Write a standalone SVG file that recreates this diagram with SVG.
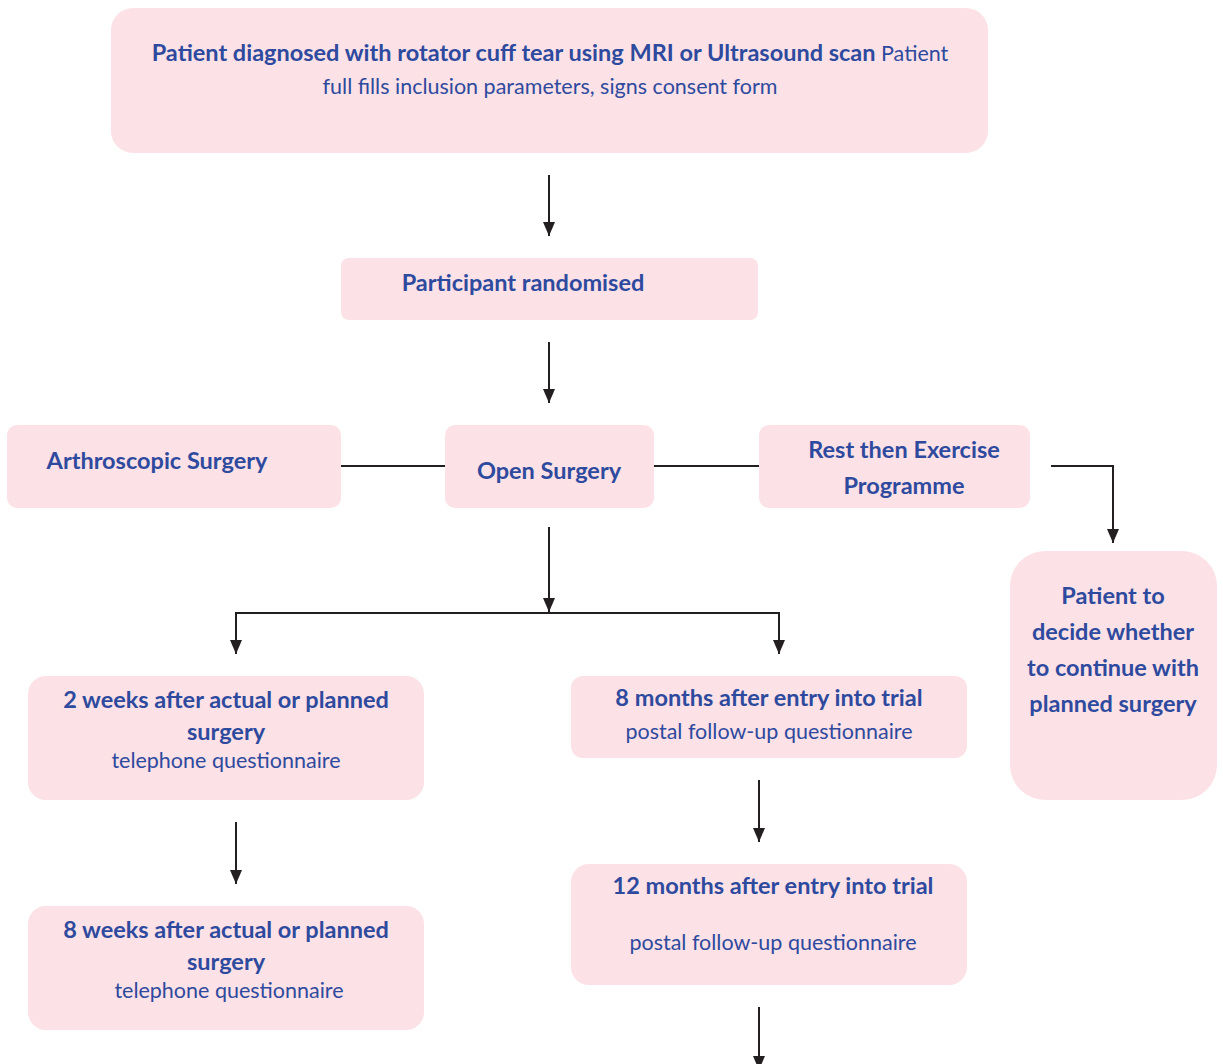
<svg xmlns="http://www.w3.org/2000/svg" width="1223" height="1064" viewBox="0 0 1223 1064">
<style>
.box{fill:#FCE1E6;}
.t{font-family:Lato,"Open Sans","Liberation Sans",sans-serif;fill:#2E4A9E;text-anchor:middle;}
.b{font-weight:bold;font-size:23.5px;}
.r{font-weight:normal;font-size:21.5px;}
.ln{stroke:#231F20;stroke-width:2;fill:none;}
</style>
<defs>
<marker id="ah" viewBox="0 0 14 12" refX="14" refY="6" markerWidth="14" markerHeight="12" markerUnits="userSpaceOnUse" orient="auto">
<path d="M0,0 L14,6 L0,12 Z" fill="#231F20"/>
</marker>
</defs>
<rect width="1223" height="1064" fill="#fff"/>
<g id="connectors">
<line class="ln" x1="549" y1="175" x2="549" y2="236" marker-end="url(#ah)"/>
<line class="ln" x1="549" y1="342" x2="549" y2="403" marker-end="url(#ah)"/>
<line class="ln" x1="341" y1="466" x2="445" y2="466"/>
<line class="ln" x1="654" y1="466" x2="759" y2="466"/>
<polyline class="ln" points="1051,466 1113,466 1113,543" marker-end="url(#ah)"/>
<line class="ln" x1="549" y1="527" x2="549" y2="612" marker-end="url(#ah)"/>
<polyline class="ln" points="236,654 236,613 779,613 779,654" marker-end="url(#ah)"/>
<line class="ln" x1="236" y1="613" x2="236" y2="654" marker-end="url(#ah)"/>
<line class="ln" x1="236" y1="822" x2="236" y2="884" marker-end="url(#ah)"/>
<line class="ln" x1="759" y1="780" x2="759" y2="842" marker-end="url(#ah)"/>
<line class="ln" x1="759" y1="1007" x2="759" y2="1070" marker-end="url(#ah)"/>
</g>
<g id="n-diagnosed">
<rect class="box" x="111" y="8" width="877" height="145" rx="22"/>
<text class="t" x="550" y="61"><tspan class="b">Patient diagnosed with rotator cuff tear using MRI or Ultrasound scan</tspan><tspan class="r"> Patient</tspan></text>
<text class="t r" x="550" y="94">full fills inclusion parameters, signs consent form</text>
</g>
<g id="n-randomised">
<rect class="box" x="341" y="258" width="417" height="62" rx="8"/>
<text class="t b" x="523" y="291">Participant randomised</text>
</g>
<g id="n-arthroscopic">
<rect class="box" x="7" y="425" width="334" height="83" rx="10"/>
<text class="t b" x="157" y="469">Arthroscopic Surgery</text>
</g>
<g id="n-open">
<rect class="box" x="445" y="425" width="209" height="83" rx="10"/>
<text class="t b" x="549" y="479">Open Surgery</text>
</g>
<g id="n-rest">
<rect class="box" x="759" y="425" width="271" height="83" rx="10"/>
<text class="t b" x="904" y="458">Rest then Exercise</text>
<text class="t b" x="904" y="494">Programme</text>
</g>
<g id="n-decide">
<rect class="box" x="1010" y="551" width="207" height="249" rx="35"/>
<text class="t b" x="1113" y="604">Patient to</text>
<text class="t b" x="1113" y="640">decide whether</text>
<text class="t b" x="1113" y="676">to continue with</text>
<text class="t b" x="1113" y="712">planned surgery</text>
</g>
<g id="n-2weeks">
<rect class="box" x="28" y="676" width="396" height="124" rx="18"/>
<text class="t b" x="226" y="708">2 weeks after actual or planned</text>
<text class="t b" x="226" y="740">surgery</text>
<text class="t r" x="226" y="768">telephone questionnaire</text>
</g>
<g id="n-8months">
<rect class="box" x="571" y="676" width="396" height="82" rx="12"/>
<text class="t b" x="769" y="706">8 months after entry into trial</text>
<text class="t r" x="769" y="739">postal follow-up questionnaire</text>
</g>
<g id="n-8weeks">
<rect class="box" x="28" y="906" width="396" height="124" rx="18"/>
<text class="t b" x="226" y="938">8 weeks after actual or planned</text>
<text class="t b" x="226" y="970">surgery</text>
<text class="t r" x="229" y="998">telephone questionnaire</text>
</g>
<g id="n-12months">
<rect class="box" x="571" y="864" width="396" height="121" rx="18"/>
<text class="t b" x="773" y="894">12 months after entry into trial</text>
<text class="t r" x="773" y="950">postal follow-up questionnaire</text>
</g>
</svg>
